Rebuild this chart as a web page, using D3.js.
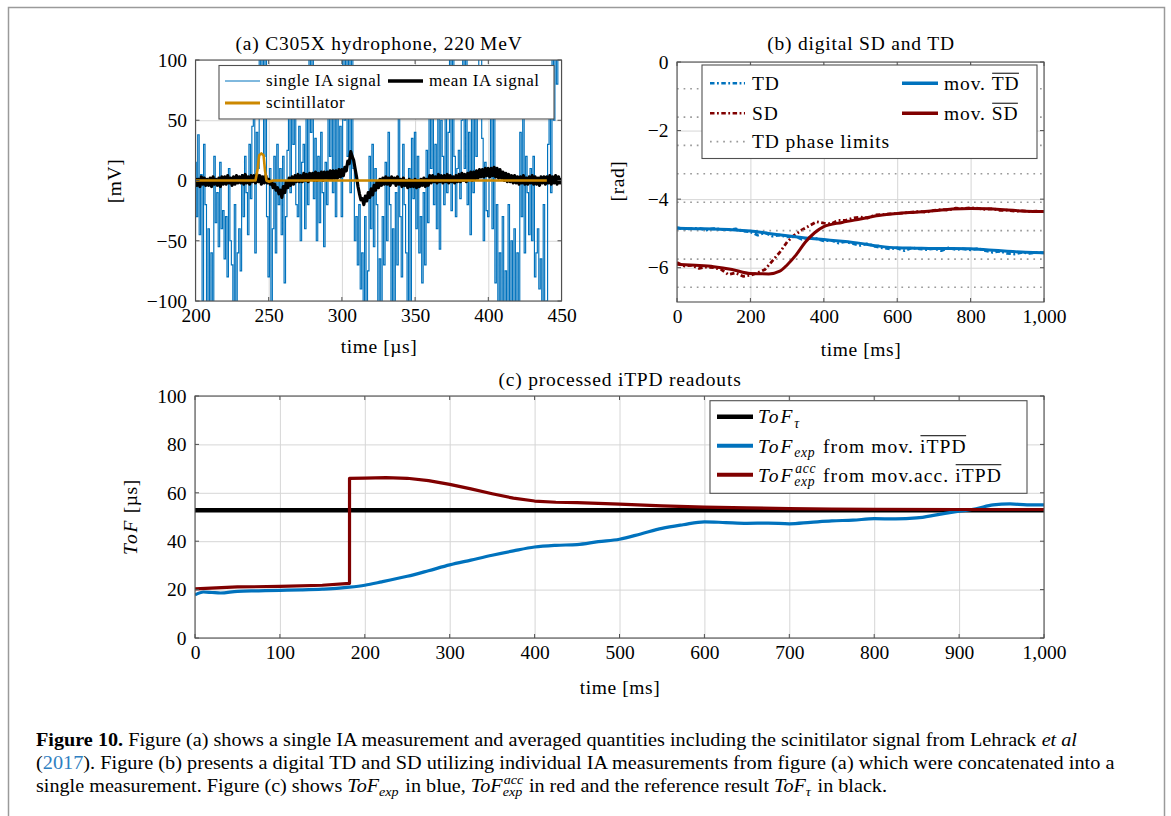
<!DOCTYPE html>
<html><head><meta charset="utf-8">
<script src="https://cdn.jsdelivr.net/npm/d3@7"></script>
<style>body{margin:0;background:#fff}svg{display:block}</style>
</head><body>
<svg id="c" width="1171" height="816"></svg>
<script>
// ---------------- DATA ----------------
// Panel (a): time axis [µs], sampled every 1 µs from 200 to 450
const aTimes = d3.range(200, 451, 1);
const aSingleIA = [
  15,-30,38,-45,5,-100,30,-20,-110,-40,
  -110,-60,-110,20,-35,-10,-55,15,-40,-25,
  -65,-30,-80,10,-50,-70,-110,-20,-110,-60,
  -40,-75,5,-30,20,-10,-45,30,-15,45,
  70,-60,40,10,110,60,110,20,110,-30,
  -80,10,-110,-40,20,-60,30,-20,10,-45,
  20,-85,-30,25,60,-10,75,30,55,-20,
  -30,45,-50,15,30,-40,60,-20,110,40,
  110,-15,35,-50,20,-35,40,-10,-55,15,
  -20,60,20,85,-10,70,-30,90,10,45,
  -30,110,50,110,20,110,-10,110,10,-50,
  -30,-70,-20,-90,-60,-110,-30,-110,-75,20,
  -40,30,-55,10,-20,-110,-65,-110,-30,-70,
  15,-50,40,-20,-110,-40,-110,-10,-70,60,
  -30,-80,30,-20,-60,-110,10,-110,35,-15,
  40,-40,20,-60,-30,-85,-10,-70,25,-35,
  55,10,70,-20,30,-40,75,-57,50,20,
  -20,65,-10,40,110,-25,110,20,-30,10,
  25,-15,50,110,10,110,-20,40,-45,75,
  -10,60,20,70,110,110,35,-50,15,-25,
  -30,10,60,-40,55,-85,-20,-110,-60,-110,
  -30,-110,-75,-110,-20,-100,-50,-110,-40,-110,
  -60,-110,40,-30,55,-60,20,-10,-45,10,
  -50,20,-80,-60,-40,-90,-65,-110,-20,-110,
  -100,30,60,-10,110,50,110,80,110,110,
  110
];
// mean IA signal, same 1 µs sampling
const aMeanIA = [
  2,-4,1,-5,3,-3,2,-4,1,-4,
  2,-5,3,-3,1,-4,2,-5,3,-3,
  3,-3,4,-2,2,-4,3,-3,4,-2,
  3,-2,4,-3,5,-2,3,-3,4,-1,
  4,-2,5,-1,4,-3,3,-2,4,-2,
  1,-3,-1,-6,-3,-8,-6,-11,-8,-14,
  -5,-10,-1,-6,2,-4,3,-3,4,-1,
  5,-1,4,-1,6,0,5,-1,6,1,
  6,0,7,0,6,1,7,0,7,2,
  7,1,8,1,8,2,8,2,9,3,
  9,4,11,8,16,14,24,20,17,10,
  3,-5,-11,-16,-15,-20,-13,-17,-10,-14,
  -7,-12,-4,-8,-1,-6,1,-4,2,-3,
  3,-3,2,-4,3,-2,2,-4,3,-3,
  1,-5,2,-4,0,-6,1,-5,0,-5,
  1,-6,0,-5,1,-4,2,-5,1,-4,
  4,-2,4,-1,3,-2,5,-1,4,-2,
  4,-1,5,-2,4,-1,3,-2,4,-1,
  5,-1,6,0,5,-1,6,1,7,0,
  7,1,8,2,9,3,9,3,10,4,
  10,3,10,4,11,3,10,2,9,2,
  7,0,6,-1,5,-1,4,-2,4,-2,
  3,-3,3,-2,4,-3,2,-3,3,-2,
  4,-3,3,-3,2,-4,3,-2,3,-3,
  3,-2,4,-3,3,-2,4,-3,3,-2,
  2
];
const aScintTimes = [200, 241, 242.5, 243.5, 245, 246.5, 247.5, 248.5, 250, 253, 440];
const aScint      = [0,   0,   10,    21,    22.5, 21,   8,     0,     -1,  0,   0];
const aXTicks = [200, 250, 300, 350, 400, 450];
const aYTicks = [-100, -50, 0, 50, 100];

// Panel (b): time [ms]
const bRawTimes = d3.range(0, 1001, 20);
const bTDraw = [
  -4.83,-4.88,-4.86,-4.85,-4.90,-4.86,-4.88,-4.90,-4.87,-4.93,
  -4.95,-5.05,-4.98,-5.08,-5.05,-5.10,-5.08,-5.17,-5.12,-5.15,
  -5.22,-5.20,-5.28,-5.24,-5.30,-5.35,-5.30,-5.38,-5.42,-5.45,
  -5.43,-5.50,-5.42,-5.45,-5.47,-5.44,-5.50,-5.42,-5.47,-5.45,
  -5.48,-5.44,-5.50,-5.55,-5.52,-5.58,-5.60,-5.55,-5.58,-5.55,
  -5.57
];
const bSDraw = [
  -5.85,-5.95,-5.93,-6.02,-5.98,-6.00,-6.05,-6.20,-6.15,-6.25,
  -6.22,-6.15,-6.05,-5.80,-5.55,-5.25,-5.05,-4.90,-4.78,-4.66,
  -4.70,-4.72,-4.62,-4.62,-4.55,-4.52,-4.55,-4.46,-4.45,-4.43,
  -4.42,-4.40,-4.38,-4.36,-4.38,-4.33,-4.30,-4.32,-4.26,-4.28,
  -4.25,-4.27,-4.30,-4.28,-4.33,-4.32,-4.35,-4.34,-4.36,-4.35,
  -4.37
];
const bMovTDTimes = [0,50,100,150,200,250,300,350,400,450,500,550,600,650,700,750,800,850,900,950,1000];
const bMovTD = [-4.85,-4.86,-4.87,-4.89,-4.93,-5.00,-5.07,-5.13,-5.18,-5.23,-5.29,-5.37,-5.42,-5.43,-5.44,-5.44,-5.45,-5.48,-5.52,-5.55,-5.56];
const bMovSDTimes = [0,50,100,150,200,250,280,300,325,350,375,400,450,500,550,600,650,700,750,800,850,900,950,1000];
const bMovSD = [-5.90,-5.93,-5.97,-6.05,-6.17,-6.18,-6.10,-5.92,-5.62,-5.25,-4.98,-4.80,-4.68,-4.58,-4.48,-4.42,-4.38,-4.34,-4.29,-4.27,-4.28,-4.32,-4.35,-4.36];
const bPhaseLimits = [-0.78,-1.61,-2.43,-3.26,-4.09,-4.92,-5.75,-6.57];
const bXTicks = [0, 200, 400, 600, 800, 1000];
const bYTicks = [-6, -4, -2, 0];

// Panel (c): time [ms], ToF [µs]
const cTauTimes = [0, 1000];
const cTau = [52.8, 52.8];
const cExpTimes = [0,10,20,30,50,75,100,125,150,170,182,200,220,250,275,300,325,350,375,400,425,450,475,500,525,550,575,600,625,650,675,700,725,750,775,800,825,850,875,900,920,940,960,980,1000];
const cExp = [17.8,19.0,18.8,18.6,19.3,19.5,19.7,19.9,20.2,20.6,21.0,21.8,23.2,25.5,27.8,30.2,32.2,34.2,36.0,37.6,38.3,38.6,39.8,40.8,43.0,45.3,46.8,48.0,47.7,47.4,47.5,47.2,47.8,48.4,48.7,49.3,49.2,49.6,51.0,52.4,53.4,55.0,55.4,55.0,55.0];
const cAccTimes = [0,25,50,100,150,182,182,200,225,250,275,300,325,350,375,400,425,450,475,500,550,600,650,700,750,800,900,1000];
const cAcc = [20.3,20.7,21.1,21.3,21.8,22.6,66.0,66.1,66.3,66.0,65.0,63.5,61.6,59.6,57.8,56.6,56.1,55.9,55.6,55.3,54.6,54.1,53.8,53.5,53.3,53.2,53.1,53.1];
const cXTicks = [0,100,200,300,400,500,600,700,800,900,1000];
const cYTicks = [0,20,40,60,80,100];

// ---------------- STYLE ----------------
const FONT = "'Liberation Serif','Times New Roman',serif";
const BLUE = "#0072bd", RED = "#800000", ORANGE = "#cc8800", GRID = "#d6d6d6", FRAME = "#505050";
const TICK = 19.5;

const svg = d3.select("#c");
svg.append("rect").attr("x", 8.5).attr("y", 7.5).attr("width", 1156).attr("height", 840)
  .attr("fill", "none").attr("stroke", "#9a9a9a").attr("stroke-width", 1.5);

function rich(parent, x, y, segs, o) {
  const size = o.size || TICK, ls = o.ls || 0;
  const g = parent.append("g");
  let cx = 0;
  const mk = (txt, px, py, fs, s) => {
    const t = g.append("text").attr("x", px).attr("y", py)
      .style("font-family", FONT).attr("font-size", fs)
      .attr("letter-spacing", s.ls !== undefined ? s.ls : ls).style("white-space", "pre")
      .attr("fill", s.fill || "#000").text(txt);
    if (s.it) t.attr("font-style", "italic");
    if (s.b) t.attr("font-weight", "bold");
    return t.node().getComputedTextLength();
  };
  segs.forEach(s0 => {
    const s = typeof s0 === "string" ? {t: s0} : s0;
    if (s.sub !== undefined || s.sup !== undefined) {
      const fs = size * 0.7; let w = 0;
      if (s.sup !== undefined) w = Math.max(w, mk(s.sup, cx + 1, -size * 0.42, fs, s));
      if (s.sub !== undefined) w = Math.max(w, mk(s.sub, cx, size * 0.24, fs, s));
      cx += w + size * 0.08;
    } else {
      const w = mk(s.t, cx, 0, size, s);
      if (s.over) g.append("line").attr("x1", cx + 0.5).attr("x2", cx + w - 0.5)
        .attr("y1", -size * 0.86).attr("y2", -size * 0.86).attr("stroke", "#000").attr("stroke-width", 1);
      cx += w;
    }
  });
  const dx = o.anchor === "middle" ? -cx / 2 : o.anchor === "end" ? -cx : 0;
  const sx = o.fit ? o.fit / cx : 1;
  g.attr("transform", `translate(${x},${y})${o.rotate ? ` rotate(${o.rotate})` : ""} scale(${sx},1) translate(${dx},0)`);
  return cx;
}

let clipN = 0;
function panel(x, y, xt, xf, yt, yf) {
  const [x0, x1] = x.range(), [y0, y1] = y.range();
  const g = svg.append("g");
  const ax = g.append("g").attr("transform", `translate(0,${y0})`)
    .call(d3.axisBottom(x).tickValues(xt).tickFormat(xf).tickSize(-(y0 - y1)).tickPadding(7));
  const ay = g.append("g").attr("transform", `translate(${x0},0)`)
    .call(d3.axisLeft(y).tickValues(yt).tickFormat(yf).tickSize(-(x1 - x0)).tickPadding(8.5));
  [ax, ay].forEach(a => {
    a.select(".domain").remove();
    a.attr("font-family", null).attr("font-size", null);
    a.selectAll(".tick line").attr("stroke", GRID).attr("stroke-width", 1);
    a.selectAll(".tick text").attr("fill", "#000").style("font-family", FONT).style("font-size", TICK + "px");
  });
  const id = "clip" + (clipN++);
  svg.append("clipPath").attr("id", id).append("rect")
    .attr("x", x0).attr("y", y1).attr("width", x1 - x0).attr("height", y0 - y1);
  const plot = g.append("g").attr("clip-path", `url(#${id})`);
  const frame = () => {
    const f = g.append("g");
    xt.forEach(v => {
      f.append("line").attr("x1", x(v)).attr("x2", x(v)).attr("y1", y0).attr("y2", y0 - 4).attr("stroke", FRAME);
      f.append("line").attr("x1", x(v)).attr("x2", x(v)).attr("y1", y1).attr("y2", y1 + 4).attr("stroke", FRAME);
    });
    yt.forEach(v => {
      f.append("line").attr("y1", y(v)).attr("y2", y(v)).attr("x1", x0).attr("x2", x0 + 4).attr("stroke", FRAME);
      f.append("line").attr("y1", y(v)).attr("y2", y(v)).attr("x1", x1).attr("x2", x1 - 4).attr("stroke", FRAME);
    });
    f.append("rect").attr("x", x0).attr("y", y1).attr("width", x1 - x0).attr("height", y0 - y1)
      .attr("fill", "none").attr("stroke", FRAME).attr("stroke-width", 1.1);
  };
  return {g, plot, frame};
}
function path(parent, xs, ys, x, y, st) {
  const line = d3.line().x((d, i) => x(xs[i])).y(d => y(d));
  if (st.curve) line.curve(st.curve);
  const p = parent.append("path").attr("d", line(ys)).attr("fill", "none")
    .attr("stroke", st.color).attr("stroke-width", st.w)
    .attr("stroke-linejoin", st.join || "round");
  if (st.dash) p.attr("stroke-dasharray", st.dash);
  return p;
}
function legendBox(x0, y0, x1, y1) {
  svg.append("rect").attr("x", x0).attr("y", y0).attr("width", x1 - x0).attr("height", y1 - y0)
    .attr("fill", "#fff").attr("stroke", FRAME).attr("stroke-width", 1.1);
}
function sample(xa, xb, yy, st) {
  const l = svg.append("line").attr("x1", xa).attr("x2", xb).attr("y1", yy).attr("y2", yy)
    .attr("stroke", st.color).attr("stroke-width", st.w);
  if (st.dash) l.attr("stroke-dasharray", st.dash);
}
const LS = 0.6;

// ---------------- PANEL (a) ----------------
const xA = d3.scaleLinear([200, 450], [195.5, 561.5]);
const yA = d3.scaleLinear([-100, 100], [301, 60]);
const pA = panel(xA, yA, aXTicks, d3.format("d"), aYTicks, d3.format("d"));
path(pA.plot, aTimes, aSingleIA, xA, yA, {color: BLUE, w: 1.15, curve: d3.curveStep, join: "miter"});
path(pA.plot, aTimes, aMeanIA, xA, yA, {color: "#000", w: 3.2});
path(pA.plot, aScintTimes, aScint, xA, yA, {color: ORANGE, w: 2.6});
pA.frame();
rich(svg, 379, 50, ["(a) C305X hydrophone, 220\u2009MeV"], {anchor: "middle", size: 19.5, ls: 0.8});
rich(svg, 379, 353, ["time [µs]"], {anchor: "middle", size: 19.5, ls: LS});
rich(svg, 120.5, 181, ["[mV]"], {anchor: "middle", size: 19.5, ls: LS, rotate: -90});
legendBox(219, 65.5, 554, 119);
sample(225, 260, 81, {color: BLUE, w: 1});
rich(svg, 266, 85.5, ["single IA signal"], {size: 17, ls: 0.55});
sample(388, 423, 81, {color: "#000", w: 3.5});
rich(svg, 429, 85.5, ["mean IA signal"], {size: 17, ls: 0.55});
sample(225, 260, 103, {color: ORANGE, w: 3});
rich(svg, 266, 107.5, ["scintillator"], {size: 17, ls: 0.55});

// ---------------- PANEL (b) ----------------
const xB = d3.scaleLinear([0, 1000], [677, 1044]);
const yB = d3.scaleLinear([-7, 0], [302, 62]);
const pB = panel(xB, yB, bXTicks, d3.format(","), bYTicks, d3.format("d"));
const DASHDOT = "4.5 2.5 1.8 2.5";
path(pB.plot, bRawTimes, bTDraw, xB, yB, {color: BLUE, w: 2.8, dash: DASHDOT});
path(pB.plot, bRawTimes, bSDraw, xB, yB, {color: RED, w: 2.8, dash: DASHDOT});
bPhaseLimits.forEach(v => {
  pB.plot.append("line").attr("x1", xB(0)).attr("x2", xB(1000)).attr("y1", yB(v)).attr("y2", yB(v))
    .attr("stroke", "#9a9a9a").attr("stroke-width", 1.7).attr("stroke-dasharray", "1.7 4.9");
});
path(pB.plot, bMovTDTimes, bMovTD, xB, yB, {color: BLUE, w: 3, curve: d3.curveMonotoneX});
path(pB.plot, bMovSDTimes, bMovSD, xB, yB, {color: RED, w: 3, curve: d3.curveMonotoneX});
pB.frame();
rich(svg, 861, 50, ["(b) digital SD and TD"], {anchor: "middle", size: 19.5, ls: 0.8});
rich(svg, 861, 356, ["time [ms]"], {anchor: "middle", size: 19.5, ls: LS});
rich(svg, 624, 181, ["[rad]"], {anchor: "middle", size: 19.5, ls: LS, rotate: -90});
legendBox(702, 65, 1037, 158.5);
sample(710, 745, 83.3, {color: BLUE, w: 2.6, dash: DASHDOT});
rich(svg, 752, 90, ["TD"], {size: 19.5, ls: 0.9});
sample(710, 745, 113.3, {color: RED, w: 2.6, dash: DASHDOT});
rich(svg, 752, 120, ["SD"], {size: 19.5, ls: 0.9});
sample(710, 745, 141.7, {color: "#9a9a9a", w: 1.7, dash: "1.7 4.9"});
rich(svg, 752, 148.4, ["TD phase limits"], {size: 19.5, ls: 0.9});
sample(902, 938, 83.3, {color: BLUE, w: 3.5});
rich(svg, 944, 90, ["mov. ", {t: "TD", over: true}], {size: 19.5, ls: 0.9});
sample(902, 938, 113.3, {color: RED, w: 3.5});
rich(svg, 944, 120, ["mov. ", {t: "SD", over: true}], {size: 19.5, ls: 0.9});

// ---------------- PANEL (c) ----------------
const xC = d3.scaleLinear([0, 1000], [195, 1044]);
const yC = d3.scaleLinear([0, 100], [638, 396]);
const pC = panel(xC, yC, cXTicks, d3.format(","), cYTicks, d3.format("d"));
path(pC.plot, cTauTimes, cTau, xC, yC, {color: "#000", w: 4.5});
path(pC.plot, cExpTimes, cExp, xC, yC, {color: BLUE, w: 3.2, curve: d3.curveMonotoneX});
path(pC.plot, cAccTimes, cAcc, xC, yC, {color: RED, w: 3.2});
pC.frame();
rich(svg, 620, 386, ["(c) processed iTPD readouts"], {anchor: "middle", size: 19.5, ls: 0.8});
rich(svg, 620, 694, ["time [ms]"], {anchor: "middle", size: 19.5, ls: LS});
rich(svg, 136.5, 517, [{t: "ToF", it: true, ls: 1.8}, " [µs]"], {anchor: "middle", size: 19.5, ls: LS, rotate: -90});
legendBox(710, 400.7, 1027, 493.3);
sample(717, 753, 416.7, {color: "#000", w: 4.5});
rich(svg, 758, 423.3, [{t: "ToF", it: true, ls: 1.8}, {sub: "τ", it: true}], {size: 19.5, ls: 1.1});
sample(717, 753, 445.7, {color: BLUE, w: 4});
rich(svg, 758, 452.5, [{t: "ToF", it: true, ls: 1.8}, {sub: "exp", it: true, ls: 0.8}, " from mov. ", {t: "iTPD", over: true}], {size: 19.5, ls: 1.1});
sample(717, 753, 474.7, {color: RED, w: 4});
rich(svg, 758, 481.5, [{t: "ToF", it: true, ls: 1.8}, {sub: "exp", sup: "acc", it: true, ls: 0.8}, " from mov.acc. ", {t: "iTPD", over: true}], {size: 19.5, ls: 1.1});

// ---------------- CAPTION ----------------
const CAP = 18;
rich(svg, 36, 746, [{t: "Figure 10.", b: true}, " Figure (a) shows a single IA measurement and averaged quantities including the scinitilator signal from Lehrack ", {t: "et al", it: true}], {size: CAP, fit: 1041});
rich(svg, 36, 769, ["(", {t: "2017", fill: "#2f7fc1"}, "). Figure (b) presents a digital TD and SD utilizing individual IA measurements from figure (a) which were concatenated into a"], {size: CAP, fit: 1079});
rich(svg, 36, 792, ["single measurement. Figure (c) shows ", {t: "ToF", it: true}, {sub: "exp", it: true}, " in blue, ", {t: "ToF", it: true}, {sub: "exp", sup: "acc", it: true}, " in red and the reference result ", {t: "ToF", it: true}, {sub: "τ", it: true}, " in black."], {size: CAP, fit: 851});
</script>
</body></html>
